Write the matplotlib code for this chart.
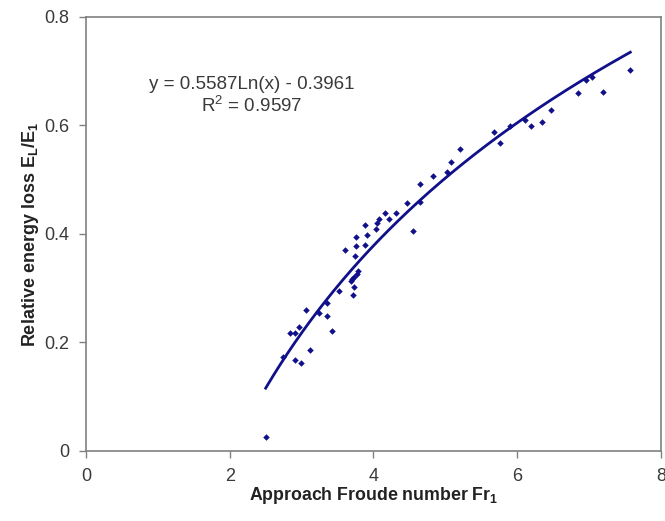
import numpy as np
import matplotlib.pyplot as plt

plt.rcParams['font.family'] = ['Liberation Sans', 'DejaVu Sans']
plt.rcParams['mathtext.fontset'] = 'custom'
plt.rcParams['mathtext.rm'] = 'Liberation Sans'
plt.rcParams['mathtext.bf'] = 'Liberation Sans:bold'

# measured points: approach Froude number vs relative energy loss
fr1 = [2.50, 2.745, 2.838, 2.904, 2.963, 2.904, 2.987, 3.061, 3.117, 3.246,
       3.349, 3.349, 3.423, 3.524, 3.599, 3.711, 3.729, 3.780, 3.766, 3.729,
       3.705, 3.691, 3.743, 3.761, 3.875, 3.763, 3.912, 3.878, 4.031, 4.049,
       4.070, 4.216, 4.160, 4.313, 4.473, 4.647, 4.545, 4.647, 4.824, 5.027,
       5.078, 5.203, 5.681, 5.760, 5.906, 6.108, 6.191, 6.344, 6.470, 6.845,
       6.950, 7.043, 7.196, 7.573]
el_e1 = [0.026, 0.173, 0.217, 0.217, 0.229, 0.168, 0.162, 0.259, 0.186, 0.254,
         0.272, 0.249, 0.221, 0.294, 0.370, 0.288, 0.302, 0.331, 0.326, 0.321,
         0.317, 0.313, 0.359, 0.377, 0.380, 0.395, 0.398, 0.416, 0.409, 0.421,
         0.427, 0.427, 0.439, 0.439, 0.458, 0.459, 0.406, 0.493, 0.506, 0.515,
         0.533, 0.556, 0.588, 0.568, 0.599, 0.610, 0.599, 0.606, 0.629, 0.660,
         0.683, 0.689, 0.661, 0.703]

# logarithmic trendline y = a*ln(x) + b
a_coef = 0.5587
b_coef = -0.3961
r2 = 0.9597

x_ticks = [0, 2, 4, 6, 8]
y_ticks = [0, 0.2, 0.4, 0.6, 0.8]
y_tick_labels = ['0', '0.2', '0.4', '0.6', '0.8']

navy = '#10108a'
grey = '#808080'
txt = '#3a3a3a'

fig = plt.figure(figsize=(6.65, 5.21), dpi=100)
ax = fig.add_axes([0.1293, 0.1344, 0.8647, 0.833])

ax.scatter(fr1, el_e1, marker='D', s=11, color=navy, linewidths=0, zorder=3)

xf = np.linspace(min(fr1), max(fr1), 200)
ax.plot(xf, a_coef * np.log(xf) + b_coef, color=navy, lw=2, zorder=2)

ax.set_xlim(0, 8)
ax.set_ylim(0, 0.8)
ax.set_xticks(x_ticks)
ax.set_yticks(y_ticks)
ax.set_yticklabels(y_tick_labels)
ax.tick_params(direction='out', length=5, width=1, color=grey,
               labelsize=13, labelcolor=txt, pad=7)

for s in ax.spines.values():
    s.set_color(grey)
    s.set_linewidth(1.2)

ax.set_xlabel(r'Approach Froude number Fr$_\mathbf{1}$', fontsize=12.8,
              fontweight='bold', color='#222222', labelpad=0)
ax.set_ylabel(r'Relative energy loss E$_\mathbf{L}$/E$_\mathbf{1}$', fontsize=13,
              fontweight='bold', color='#222222', labelpad=2)

ax.text(2.30, 0.676, 'y = %.4fLn(x) - %.4f' % (a_coef, -b_coef), ha='center',
        va='center', fontsize=13.5, color=txt)
ax.text(2.30, 0.636, r'R$^\mathrm{2}$ = %.4f' % r2, ha='center', va='center',
        fontsize=13.5, color=txt)

fig.savefig('out.png', dpi=100)
